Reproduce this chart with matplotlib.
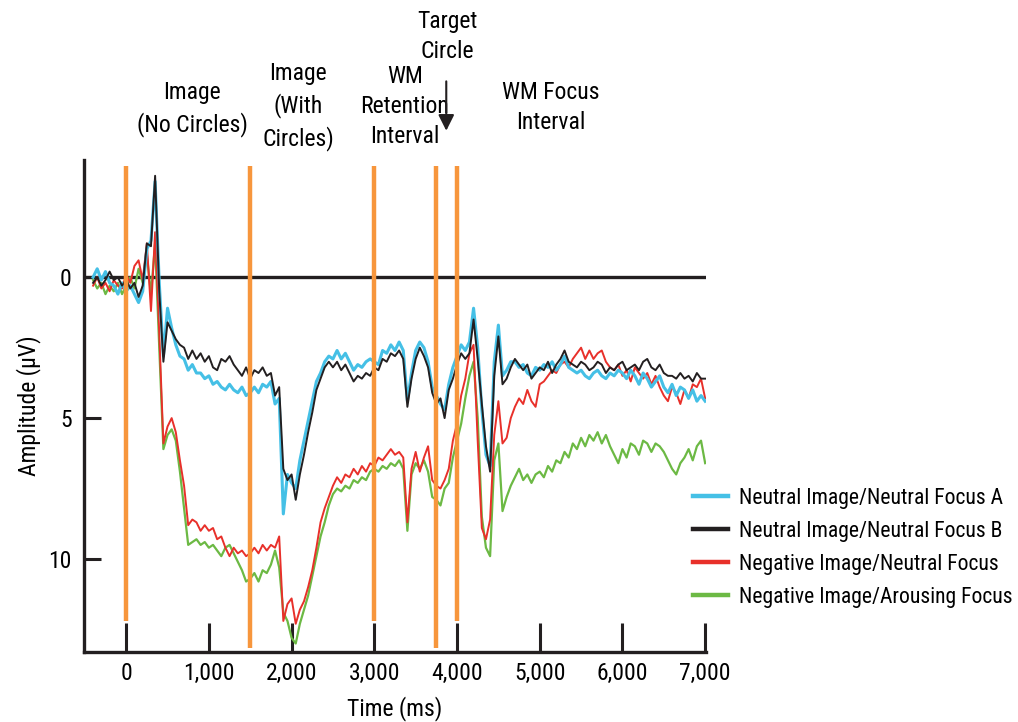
import numpy as np
import matplotlib
matplotlib.use("Agg")
import matplotlib.pyplot as plt
from matplotlib import font_manager as fm

# pick a condensed sans if one is installed (reference uses a narrow Helvetica)
family, stretch = 'Liberation Sans', 'normal'
cands = []
for f in fm.fontManager.ttflist:
    if f.style != 'normal' or f.weight not in (400, 'normal', 'regular'):
        continue
    if 'Narrow' in f.name or 'Condensed' in f.name or 'condensed' in str(f.stretch):
        cands.append((f.name, f.stretch))
pref = ['Liberation Sans Narrow', 'Roboto Condensed', 'DejaVu Sans', 'Open Sans Condensed',
        'Noto Sans']
for p in pref:
    hit = [c for c in cands if c[0] == p]
    if hit:
        family, stretch = hit[0]
        break
else:
    if cands:
        family, stretch = cands[0]

plt.rcParams['font.family'] = [family, 'DejaVu Sans']
plt.rcParams['font.stretch'] = stretch

# time axis (ms), 50 ms steps
t = np.arange(-400, 7001, 50)

neutral_a = [0.0, -0.3, 0.1, -0.2, 0.2, 0.3, 0.6, 0.2, 0.5, 0.3,
             0.6, 0.9, 0.5, -1.0, -1.3, -3.4, 0.2, 2.8, 1.1, 1.8,
             2.4, 2.8, 2.9, 3.3, 3.1, 3.4, 3.4, 3.6, 3.5, 3.8,
             3.7, 3.9, 4.0, 3.8, 4.0, 4.1, 3.9, 4.2, 4.1, 3.9,
             4.1, 3.8, 3.9, 3.7, 4.5, 4.3, 8.4, 7.0, 7.3, 7.5,
             6.5, 5.8, 5.1, 4.4, 3.7, 3.4, 3.0, 2.8, 2.9, 2.6,
             2.9, 2.7, 3.0, 3.3, 3.1, 3.2, 3.0, 2.9, 3.0, 3.1,
             2.6, 2.7, 2.4, 2.6, 2.3, 2.6, 4.4, 3.4, 2.6, 2.3,
             2.5, 3.0, 3.9, 4.2, 4.5, 4.7, 3.8, 3.2, 2.8, 2.4,
             2.6, 2.3, 1.1, 2.5, 4.7, 6.3, 6.7, 3.0, 1.7, 3.5,
             3.3, 3.0, 3.0, 3.2, 3.1, 3.4, 3.5, 3.2, 3.3, 3.1,
             3.2, 3.0, 3.3, 3.1, 2.8, 3.2, 3.3, 3.4, 3.3, 3.5,
             3.6, 3.4, 3.3, 3.5, 3.6, 3.4, 3.5, 3.3, 3.4, 3.6,
             3.3, 3.5, 3.8, 3.4, 3.6, 3.9, 3.7, 3.5, 3.9, 4.1,
             3.8, 4.2, 3.9, 4.0, 4.3, 4.0, 4.4, 4.2, 4.4]

neutral_b = [0.2, 0.0, 0.3, 0.1, -0.2, 0.1, 0.0, 0.3, 0.1, 0.4,
             0.2, 0.7, 0.3, -1.2, -1.1, -3.6, 0.5, 3.0, 1.6, 1.9,
             2.2, 2.4, 2.5, 2.9, 2.6, 2.9, 2.7, 3.0, 2.8, 3.2,
             3.3, 2.9, 3.0, 2.8, 3.1, 3.3, 3.5, 3.2, 3.6, 3.3,
             3.4, 3.2, 3.5, 3.4, 4.2, 3.9, 6.8, 7.2, 7.0, 7.9,
             7.0, 6.3, 5.5, 4.8, 4.0, 3.6, 3.2, 3.0, 3.2, 3.0,
             3.3, 3.1, 3.4, 3.7, 3.5, 3.6, 3.4, 3.5, 3.2, 3.3,
             2.9, 3.0, 2.7, 2.8, 2.6, 2.9, 4.6, 3.6, 2.9, 2.5,
             2.8, 3.2, 4.1, 4.5, 4.3, 5.0, 4.0, 3.6, 3.1, 2.7,
             2.9, 2.7, 1.5, 2.9, 4.5, 6.0, 6.9, 3.5, 2.1, 3.8,
             3.6, 3.2, 2.9, 3.1, 3.3, 3.1, 3.6, 3.4, 3.2, 3.3,
             3.0, 3.4, 3.1, 2.9, 2.6, 3.0, 3.1, 3.2, 3.0, 3.1,
             3.3, 3.2, 3.0, 3.1, 3.4, 3.2, 3.3, 3.1, 3.0, 3.3,
             3.2, 3.1, 3.3, 3.0, 2.9, 3.2, 3.3, 3.1, 3.4, 3.5,
             3.5, 3.6, 3.4, 3.6, 3.5, 3.7, 3.4, 3.6, 3.6]

negative_neutral = [0.3, 0.0, 0.4, 0.2, 0.5, 0.1, 0.3, 0.4, -0.1, 0.2,
                    -0.4, -0.6, 0.1, -1.2, 1.2, -1.6, 2.0, 5.9, 5.3, 5.0,
                    5.5, 6.5, 7.4, 8.8, 8.6, 8.7, 9.0, 8.8, 9.0, 8.9,
                    9.3, 9.2, 9.6, 9.9, 9.6, 9.8, 9.7, 9.9, 9.8, 9.6,
                    9.8, 9.5, 9.7, 9.5, 9.6, 9.2, 12.2, 11.6, 11.4, 12.3,
                    11.8, 11.5, 11.0, 10.4, 9.6, 8.7, 8.2, 7.8, 7.4, 7.1,
                    7.3, 7.0, 7.1, 6.8, 7.0, 6.7, 6.9, 6.6, 6.7, 6.4,
                    6.5, 6.3, 6.1, 6.3, 6.2, 6.4, 8.7, 6.8, 6.2, 6.9,
                    6.4, 6.0, 7.2, 7.4, 7.5, 7.2, 6.8, 5.8, 5.2, 4.2,
                    3.6, 2.7, 2.4, 5.8, 8.9, 9.3, 8.6, 5.6, 4.4, 5.9,
                    5.7, 5.0, 4.6, 4.3, 4.5, 4.0, 4.4, 4.6, 3.8, 3.7,
                    3.5, 3.3, 3.4, 3.1, 3.0, 3.2, 2.9, 2.7, 2.5, 2.9,
                    2.6, 2.9, 2.7, 2.6, 3.0, 3.2, 3.3, 3.1, 3.5, 3.3,
                    3.7, 3.2, 3.4, 3.6, 3.4, 3.8, 3.5, 3.9, 4.2, 4.4,
                    3.9, 4.1, 4.5, 4.0, 4.3, 3.8, 3.9, 3.6, 4.3]

negative_arousing = [0.1, 0.4, 0.2, 0.6, 0.3, 0.5, 0.2, 0.6, 0.3, 0.0,
                     0.4, -0.3, 0.2, -0.8, 0.6, -1.2, 2.5, 6.1, 5.6, 5.4,
                     5.8, 6.9, 8.2, 9.5, 9.4, 9.3, 9.5, 9.4, 9.6, 9.5,
                     9.7, 9.9, 9.6, 9.5, 9.8, 10.1, 10.4, 10.8, 10.7, 10.5,
                     10.8, 10.4, 10.5, 10.2, 9.7, 10.3, 11.9, 12.2, 12.8, 13.0,
                     12.3, 11.8, 11.3, 10.6, 9.9, 9.2, 8.7, 8.1, 7.7, 7.5,
                     7.6, 7.4, 7.5, 7.2, 7.3, 7.1, 7.2, 6.9, 6.8, 6.9,
                     6.7, 6.8, 6.6, 6.7, 6.5, 6.8, 9.0, 7.0, 6.6, 6.8,
                     6.5, 6.9, 7.8, 7.9, 8.1, 7.5, 7.3, 6.4, 5.8, 5.2,
                     4.3, 3.5, 3.0, 5.0, 8.5, 9.6, 9.9, 6.5, 5.9, 8.3,
                     7.8, 7.4, 7.1, 6.8, 7.2, 7.0, 7.3, 7.0, 6.9, 7.1,
                     6.7, 6.9, 6.5, 6.6, 6.2, 6.4, 5.9, 6.1, 5.7, 6.0,
                     5.6, 5.8, 5.5, 5.9, 5.6, 6.0, 6.3, 6.6, 6.1, 6.4,
                     5.9, 6.0, 6.3, 5.8, 5.9, 6.2, 5.9, 6.0, 6.2, 6.5,
                     6.8, 7.0, 6.6, 6.4, 6.1, 6.5, 6.0, 5.8, 6.6]

labels = ['Neutral Image/Neutral Focus A', 'Neutral Image/Neutral Focus B',
          'Negative Image/Neutral Focus', 'Negative Image/Arousing Focus']
colors = ['#45c0e6', '#231f20', '#e8302a', '#6cb944']

# event markers (ms) and where each orange line stops at the bottom
events = [0, 1500, 3000, 3750, 4000]
event_bottom = [12.2, 13.15, 12.2, 13.15, 12.2]

phases = ['Image\n(No Circles)', 'Image\n(With\nCircles)', 'WM\nRetention\nInterval',
          'Target\nCircle', 'WM Focus\nInterval']
phase_x = [800, 2080, 3370, 3880, 5130]
phase_y = [-5.97, -6.06, -6.06, -8.55, -6.03]

condensed = stretch != 'normal'
fs = 17 if condensed else 14
fs_leg = 15.6 if condensed else 12.5

fig = plt.figure(figsize=(10.18, 7.22), dpi=100)
ax = fig.add_axes([0.0825, 0.097, 0.611, 0.681])

ax.plot(t, negative_arousing, color=colors[3], lw=1.6, zorder=3)
ax.plot(t, negative_neutral, color=colors[2], lw=1.4, zorder=4)
ax.plot(t, neutral_a, color=colors[0], lw=2.2, zorder=5)
ax.plot(t, neutral_b, color=colors[1], lw=1.4, zorder=6)

ax.axhline(0, color='#231f20', lw=2.4, zorder=2)
for x, yb in zip(events, event_bottom):
    ax.vlines(x, -3.95, yb, color='#f7963c', lw=3.2, zorder=7)

ax.set_xlim(-510, 7010)
ax.set_ylim(13.3, -4.15)
ax.set_xticks(range(0, 7001, 1000))
ax.set_xticklabels(['0', '1,000', '2,000', '3,000', '4,000', '5,000', '6,000', '7,000'])
ax.set_yticks([0, 5, 10])
ax.tick_params(axis='x', direction='in', length=21, width=2.2, pad=7, labelsize=fs,
               color='#231f20')
ax.tick_params(axis='y', direction='in', length=12, width=2.2, pad=9, labelsize=fs,
               color='#231f20')
for s in ['top', 'right']:
    ax.spines[s].set_visible(False)
for s in ['left', 'bottom']:
    ax.spines[s].set_linewidth(2.4)
    ax.spines[s].set_color('#231f20')

ax.set_xlabel('Time (ms)', fontsize=fs, labelpad=8)
ax.set_ylabel('Amplitude (µV)', fontsize=fs, labelpad=5)

for txt, x, y in zip(phases, phase_x, phase_y):
    ax.text(x, y, txt, ha='center', va='center', fontsize=fs, linespacing=1.4,
            clip_on=False)
ax.annotate('', xy=(3870, -5.1), xytext=(3870, -7.05),
            arrowprops=dict(arrowstyle='-|>', color='#231f20', lw=1.5,
                            mutation_scale=24), annotation_clip=False)

handles = [plt.Line2D([], [], color=c, lw=3.2) for c in colors]
fig.legend(handles, labels, loc='upper left', bbox_to_anchor=(0.668, 0.342),
           frameon=False, fontsize=fs_leg, handlelength=1.6, handletextpad=0.5,
           labelspacing=0.55, borderaxespad=0.2)

fig.savefig('out.png', dpi=100)
